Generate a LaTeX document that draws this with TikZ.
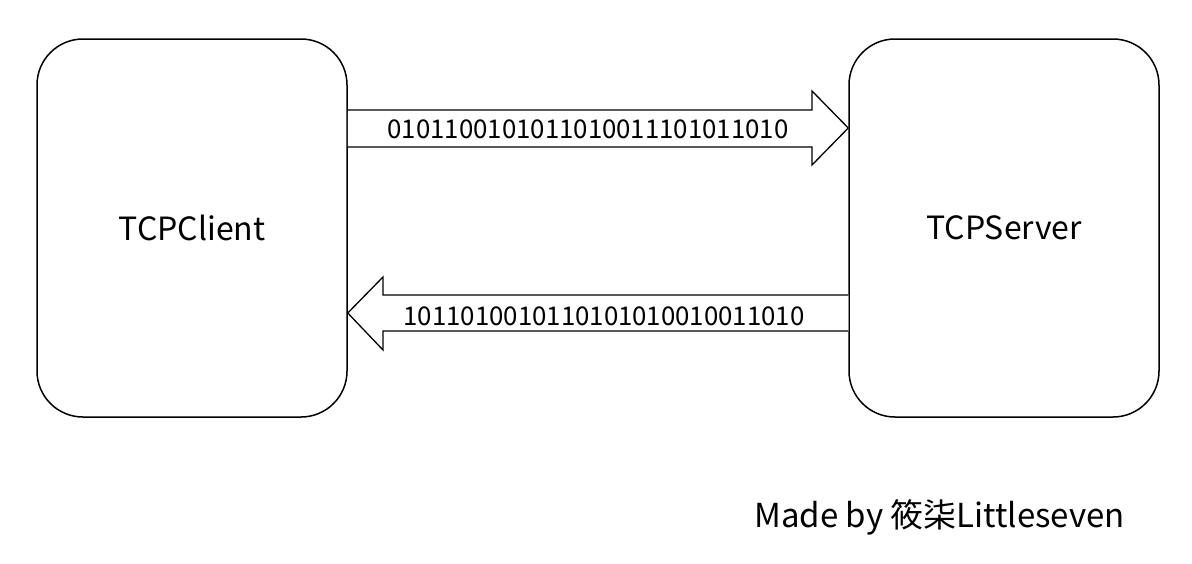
\documentclass[tikz,border=0pt]{standalone}
\usepackage{fontspec}
\setmainfont{Noto Sans CJK SC}
\usetikzlibrary{calc}
\begin{document}
\begin{tikzpicture}[x=1pt,y=-1pt,
  box/.style={draw, line width=1.5pt, rounded corners=46pt, minimum width=310pt, minimum height=378pt, inner sep=0pt, font=\fontsize{32}{38}\selectfont},
  arr/.style={draw, line width=1.3pt, fill=white, line join=miter},
  bits/.style={font=\fontsize{25.8}{30}\selectfont, inner sep=0pt}]
\useasboundingbox (0,0) rectangle (1192,563);
\node[box] (client) at (192,228) {TCPClient};
\node[box] (server) at (1004,228) {TCPServer};
% top arrow client -> server
\draw[arr] ($(client.east)+(0,-118)$) -- (812,110) -- (812,91) -- ($(server.west)+(0,-100)$) -- (812,165) -- (812,147) -- ($(client.east)+(0,-81)$);
\node[bits] (up) at (588,129) {0101100101011010011101011010};
% bottom arrow server -> client
\draw[arr] ($(server.west)+(0,67)$) -- (383,295) -- (383,277) -- ($(client.east)+(0,85)$) -- (383,350) -- (383,331) -- ($(server.west)+(0,103)$);
\node[bits] (down) at (604,316) {1011010010110101010010011010};
\node[anchor=base west, inner sep=0pt, font=\fontsize{33}{40}\selectfont] (credit) at (754,527) {Made by 筱柒Littleseven};
\end{tikzpicture}
\end{document}
